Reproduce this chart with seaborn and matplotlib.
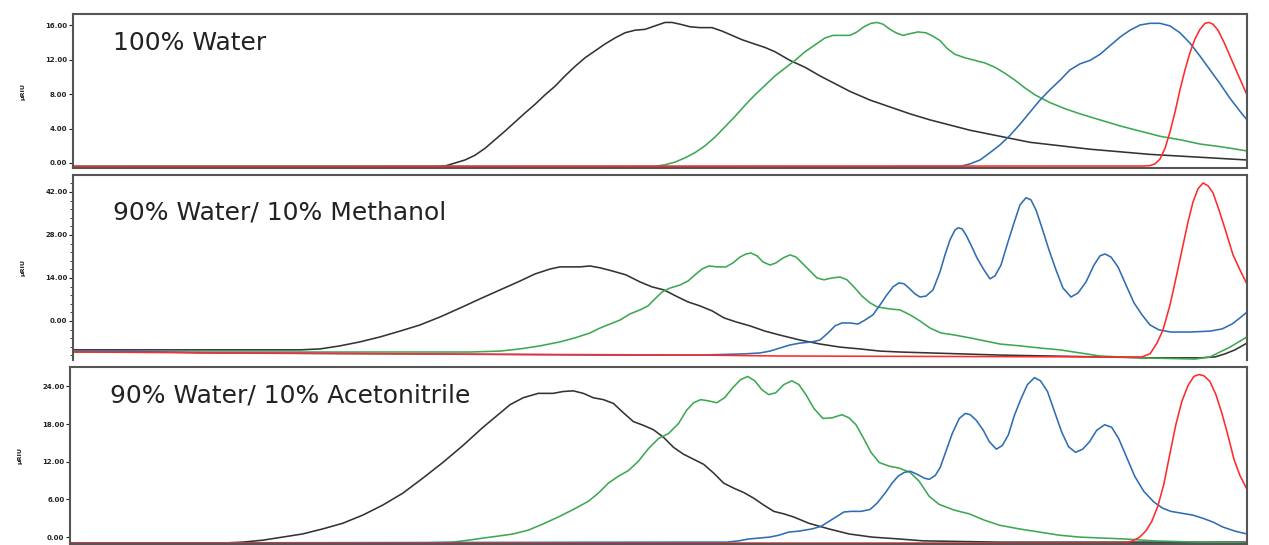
import matplotlib
matplotlib.use("Agg")
import matplotlib.pyplot as plt
from matplotlib.ticker import FixedLocator, MultipleLocator, FormatStrFormatter
import seaborn as sns
import pandas as pd

# ---------------- data (time in arbitrary units, signal in µRIU) ----------------
# Panel 1: 100% Water
w_black_x = [73, 435, 445, 455, 465, 475, 485, 495, 505, 515, 525, 535, 545, 555, 565, 575, 585, 595, 605, 615, 625, 635, 645, 655, 665, 672, 680, 690, 700, 712, 722, 732, 742, 752, 765, 775, 790, 805, 820, 835, 850, 870, 890, 910, 930, 950, 970, 1000, 1030, 1060, 1090, 1120, 1150, 1180, 1210, 1247]
w_black_y = [-0.4, -0.4, -0.35, 0.0, 0.35, 0.9, 1.7, 2.7, 3.7, 4.75, 5.8, 6.8, 7.9, 8.9, 10.1, 11.2, 12.2, 13.0, 13.8, 14.5, 15.1, 15.4, 15.5, 15.9, 16.3, 16.3, 16.1, 15.8, 15.7, 15.7, 15.3, 14.8, 14.3, 13.9, 13.4, 12.9, 11.9, 11.1, 10.1, 9.2, 8.3, 7.3, 6.5, 5.7, 5.0, 4.4, 3.8, 3.1, 2.4, 2.0, 1.6, 1.3, 1.0, 0.8, 0.6, 0.35]
w_green_x = [73, 655, 665, 675, 685, 695, 705, 715, 725, 735, 745, 755, 765, 775, 785, 795, 805, 815, 825, 833, 842, 850, 857, 864, 871, 877, 883, 890, 896, 903, 910, 918, 926, 933, 940, 947, 955, 965, 975, 985, 995, 1005, 1015, 1025, 1035, 1050, 1065, 1080, 1100, 1120, 1140, 1160, 1180, 1200, 1220, 1247]
w_green_y = [-0.4, -0.4, -0.2, 0.1, 0.6, 1.2, 2.0, 3.0, 4.2, 5.4, 6.7, 7.9, 9.0, 10.1, 11.0, 11.9, 12.9, 13.7, 14.5, 14.8, 14.8, 14.8, 15.2, 15.8, 16.2, 16.3, 16.1, 15.5, 15.1, 14.8, 15.0, 15.2, 15.1, 14.7, 14.2, 13.3, 12.6, 12.2, 11.9, 11.6, 11.1, 10.4, 9.6, 8.7, 7.9, 7.0, 6.3, 5.7, 5.0, 4.3, 3.7, 3.1, 2.7, 2.2, 1.9, 1.4]
w_blue_x = [73, 950, 960, 970, 980, 990, 1000, 1010, 1020, 1030, 1040, 1050, 1060, 1070, 1080, 1090, 1100, 1110, 1120, 1130, 1140, 1150, 1160, 1170, 1180, 1190, 1200, 1210, 1220, 1230, 1240, 1247]
w_blue_y = [-0.4, -0.4, -0.4, -0.1, 0.35, 1.2, 2.1, 3.2, 4.5, 5.9, 7.3, 8.5, 9.6, 10.8, 11.5, 11.9, 12.6, 13.6, 14.6, 15.4, 16.0, 16.2, 16.2, 15.9, 15.1, 13.9, 12.4, 10.8, 9.2, 7.5, 6.0, 5.0]
w_red_x = [73, 1060, 1143, 1150, 1155, 1160, 1165, 1170, 1175, 1180, 1185, 1190, 1195, 1200, 1205, 1209, 1213, 1218, 1224, 1230, 1236, 1242, 1247]
w_red_y = [-0.4, -0.35, -0.35, -0.3, -0.1, 0.46, 1.7, 3.6, 5.9, 8.5, 10.8, 12.8, 14.4, 15.5, 16.2, 16.3, 16.1, 15.4, 14.0, 12.4, 10.8, 9.2, 7.9]

# Panel 2: 90% Water / 10% Methanol
m_black_x = [73, 300, 320, 340, 360, 380, 400, 420, 440, 460, 480, 500, 520, 535, 550, 560, 570, 580, 590, 600, 612, 626, 640, 652, 664, 676, 688, 700, 712, 724, 736, 750, 765, 780, 800, 820, 840, 860, 880, 900, 930, 960, 1000, 1050, 1100, 1150, 1200, 1215, 1225, 1235, 1247]
m_black_y = [-9.4, -9.4, -9.1, -8.1, -6.8, -5.2, -3.3, -1.3, 1.3, 4.2, 7.2, 10.1, 13.0, 15.3, 16.9, 17.6, 17.6, 17.6, 17.9, 17.3, 16.3, 15.0, 12.7, 11.1, 10.1, 8.1, 6.2, 4.9, 3.3, 1.0, -0.3, -1.6, -3.3, -4.6, -6.2, -7.5, -8.5, -9.1, -9.8, -10.1, -10.4, -10.7, -11.1, -11.4, -11.7, -12.0, -12.0, -11.7, -10.7, -9.4, -7.2]
m_green_x = [73, 470, 500, 520, 540, 560, 575, 590, 600, 610, 620, 630, 640, 648, 655, 662, 670, 680, 688, 695, 702, 709, 717, 726, 733, 740, 746, 751, 757, 763, 770, 776, 783, 790, 796, 802, 810, 817, 824, 832, 840, 847, 855, 862, 870, 877, 890, 900, 910, 920, 930, 941, 955, 970, 985, 1000, 1020, 1040, 1060, 1080, 1100, 1140, 1195, 1210, 1220, 1230, 1247]
m_green_y = [-10.1, -10.1, -9.8, -9.1, -8.1, -6.8, -5.5, -3.9, -2.3, -1.0, 0.3, 2.3, 3.6, 4.9, 7.2, 9.4, 10.7, 11.7, 13.0, 15.0, 16.9, 17.9, 17.6, 17.6, 18.9, 20.8, 21.8, 22.1, 21.2, 19.2, 18.2, 18.9, 20.5, 21.5, 20.8, 18.9, 16.3, 14.0, 13.4, 14.0, 14.3, 13.4, 10.7, 8.1, 5.9, 4.6, 3.9, 3.6, 2.0, 0.0, -2.3, -3.9, -4.6, -5.5, -6.5, -7.5, -8.1, -8.8, -9.4, -10.4, -11.4, -12.0, -12.4, -11.7, -10.1, -8.5, -5.2]
m_blue_x = [73, 125, 200, 400, 600, 700, 745, 760, 770, 780, 790, 800, 812, 820, 828, 835, 842, 850, 858, 865, 873, 880, 886, 893, 899, 904, 909, 915, 920, 926, 933, 940, 945, 950, 955, 958, 962, 966, 971, 977, 984, 990, 995, 1001, 1007, 1014, 1020, 1026, 1031, 1036, 1042, 1049, 1056, 1063, 1071, 1078, 1086, 1094, 1100, 1105, 1111, 1118, 1126, 1134, 1142, 1150, 1159, 1171, 1190, 1210, 1222, 1232, 1240, 1247]
m_blue_y = [-9.8, -9.8, -10.4, -10.7, -11.1, -11.1, -10.7, -10.4, -9.8, -8.8, -7.8, -7.2, -6.8, -6.2, -3.9, -1.6, -0.65, -0.65, -1.0, 0.3, 2.0, 5.2, 8.1, 11.1, 12.4, 12.1, 10.7, 8.8, 7.8, 8.1, 10.1, 16.0, 21.5, 26.4, 29.6, 30.3, 30.0, 28.0, 24.7, 20.5, 16.6, 13.7, 14.7, 18.2, 24.7, 31.9, 37.8, 40.1, 39.4, 36.1, 30.3, 23.1, 16.6, 10.7, 7.8, 9.1, 12.7, 18.2, 21.2, 21.8, 20.8, 17.6, 11.7, 5.9, 2.0, -1.3, -2.9, -3.6, -3.6, -3.3, -2.6, -1.0, 1.0, 2.9]
m_red_x = [73, 400, 700, 780, 1100, 1142, 1150, 1157, 1163, 1170, 1176, 1182, 1188, 1193, 1198, 1203, 1208, 1213, 1219, 1226, 1233, 1240, 1247]
m_red_y = [-10.1, -10.7, -11.1, -11.4, -11.7, -11.7, -10.7, -7.2, -2.9, 5.2, 14.0, 23.1, 32.2, 38.7, 43.0, 44.9, 44.0, 41.7, 36.1, 29.0, 21.5, 16.6, 12.0]

# Panel 3: 90% Water / 10% Acetonitrile
a_black_x = [73, 225, 245, 265, 285, 305, 325, 345, 365, 385, 405, 425, 445, 465, 485, 500, 512, 525, 540, 555, 565, 575, 585, 595, 605, 615, 625, 635, 645, 655, 665, 675, 685, 695, 705, 715, 725, 735, 745, 755, 765, 775, 785, 795, 810, 830, 850, 873, 900, 924, 1000, 1247]
a_black_y = [-0.95, -0.95, -0.8, -0.5, 0.0, 0.5, 1.3, 2.2, 3.5, 5.1, 7.0, 9.4, 11.9, 14.6, 17.5, 19.5, 21.1, 22.2, 22.9, 22.9, 23.2, 23.3, 22.9, 22.2, 21.9, 21.3, 19.8, 18.4, 17.8, 17.1, 15.9, 14.3, 13.2, 12.4, 11.6, 10.2, 8.6, 7.8, 7.1, 6.2, 5.1, 4.1, 3.7, 3.2, 2.2, 1.3, 0.5, 0.0, -0.3, -0.6, -0.8, -0.8]
a_green_x = [73, 420, 455, 470, 485, 500, 515, 530, 545, 560, 575, 590, 600, 610, 620, 630, 640, 650, 660, 670, 680, 688, 695, 702, 710, 718, 726, 734, 742, 749, 756, 763, 770, 777, 785, 793, 800, 807, 815, 824, 833, 843, 850, 857, 864, 872, 880, 890, 900, 911, 920, 930, 940, 955, 970, 985, 1000, 1020, 1040, 1060, 1080, 1125, 1154, 1197, 1247]
a_green_y = [-0.95, -0.95, -0.8, -0.5, -0.16, 0.16, 0.5, 1.1, 2.1, 3.2, 4.4, 5.7, 7.0, 8.6, 9.7, 10.6, 12.1, 14.1, 15.7, 16.5, 18.1, 20.2, 21.4, 21.9, 21.7, 21.4, 22.2, 23.8, 25.1, 25.6, 24.9, 23.5, 22.7, 23.0, 24.3, 24.9, 24.3, 22.7, 20.5, 18.9, 19.0, 19.5, 19.0, 17.9, 15.9, 13.5, 11.9, 11.3, 11.0, 10.3, 8.9, 6.5, 5.2, 4.3, 3.7, 2.7, 1.9, 1.3, 0.8, 0.3, 0.0, -0.3, -0.6, -0.8, -0.95]
a_blue_x = [73, 680, 728, 740, 750, 760, 771, 780, 790, 800, 813, 822, 830, 838, 845, 852, 862, 871, 878, 886, 893, 899, 905, 911, 918, 925, 930, 936, 941, 947, 953, 960, 966, 971, 977, 984, 990, 997, 1003, 1009, 1015, 1022, 1028, 1035, 1041, 1048, 1055, 1062, 1069, 1076, 1083, 1090, 1097, 1105, 1112, 1119, 1127, 1135, 1144, 1154, 1163, 1171, 1182, 1193, 1203, 1213, 1223, 1235, 1247]
a_blue_y = [-0.95, -0.8, -0.8, -0.6, -0.3, -0.16, 0.0, 0.3, 0.8, 0.95, 1.3, 1.7, 2.5, 3.3, 4.0, 4.1, 4.1, 4.4, 5.4, 7.0, 8.6, 9.7, 10.3, 10.5, 10.0, 9.4, 9.2, 9.8, 11.1, 13.8, 16.5, 18.9, 19.7, 19.5, 18.6, 17.0, 15.2, 14.0, 14.6, 16.3, 19.4, 22.2, 24.3, 25.4, 24.9, 23.2, 20.0, 16.8, 14.4, 13.5, 14.0, 15.2, 17.0, 17.9, 17.5, 15.7, 12.7, 9.7, 7.3, 5.6, 4.6, 4.1, 3.8, 3.5, 3.0, 2.4, 1.6, 0.95, 0.5]
a_red_x = [73, 1125, 1133, 1140, 1146, 1152, 1158, 1164, 1170, 1176, 1182, 1188, 1194, 1199, 1204, 1210, 1216, 1222, 1228, 1234, 1240, 1247]
a_red_y = [-0.95, -0.95, -0.6, 0.0, 0.95, 2.5, 4.9, 8.4, 13.2, 17.9, 21.6, 24.1, 25.6, 25.9, 25.7, 24.8, 22.7, 19.7, 16.2, 12.4, 9.8, 7.6]

titles = ["100% Water", "90% Water/ 10% Methanol", "90% Water/ 10% Acetonitrile"]
p1_ticks = [0, 4, 8, 12, 16]
p2_ticks = [0, 14, 28, 42]
p3_ticks = [0, 6, 12, 18, 24]
series_names = ["black", "green", "blue", "red"]

# ---------------- styling ----------------
sns.set_theme(style="white")
plt.rcParams['font.family'] = ['DejaVu Sans']

palette = {"black": "#333333", "green": "#3da852", "blue": "#2f6db3", "red": "#ff2a2a"}

fig = plt.figure(figsize=(12.69, 5.45), dpi=100)
left, width = 73 / 1269, (1247 - 73) / 1269
rects = [
    (left, 1 - 168 / 545, width, (168 - 14) / 545),
    (left, 1 - 360 / 545, width, (360 - 175) / 545),
    (70 / 1269, 1 - 544 / 545, (1247 - 70) / 1269, (544 - 367) / 545),
]
ylims = [(-0.58, 17.28), (-12.7, 47.5), (-1.1, 27.1)]
tick_sets = [p1_ticks, p2_ticks, p3_ticks]
text_y = [0.81, 0.795, 0.84]

panels = [
    [(w_black_x, w_black_y), (w_green_x, w_green_y), (w_blue_x, w_blue_y), (w_red_x, w_red_y)],
    [(m_black_x, m_black_y), (m_green_x, m_green_y), (m_blue_x, m_blue_y), (m_red_x, m_red_y)],
    [(a_black_x, a_black_y), (a_green_x, a_green_y), (a_blue_x, a_blue_y), (a_red_x, a_red_y)],
]

for i, (rect, data) in enumerate(zip(rects, panels)):
    ax = fig.add_axes(rect)
    frames = []
    for name, (xs, ys) in zip(series_names, data):
        frames.append(pd.DataFrame({"time": xs, "signal": ys, "series": name}))
    df = pd.concat(frames, ignore_index=True)
    sns.lineplot(data=df, x="time", y="signal", hue="series", palette=palette,
                 hue_order=series_names, estimator=None, sort=False,
                 linewidth=1.15, legend=False, ax=ax)
    ax.set_xlim(73, 1247)
    ax.set_ylim(*ylims[i])
    ax.set_xticks([])
    ax.set_xlabel("")
    ax.yaxis.set_major_locator(FixedLocator(tick_sets[i]))
    ax.yaxis.set_major_formatter(FormatStrFormatter("%.2f"))
    if i == 1:
        ax.yaxis.set_minor_locator(MultipleLocator(2.8))
    ax.tick_params(axis="y", which="major", left=True, length=3, width=0.8,
                   labelsize=5, pad=1, colors="#222222")
    ax.tick_params(axis="y", which="minor", left=True, length=2, width=0.6, colors="#222222")
    for lab in ax.get_yticklabels():
        lab.set_fontweight("bold")
    ax.set_ylabel("µRIU", fontsize=4.5, fontweight="bold", labelpad=14, color="#222222")
    for sp in ax.spines.values():
        sp.set_visible(True)
        sp.set_color("#555555")
        sp.set_linewidth(1.5)
    if i == 1:
        ax.spines["bottom"].set_visible(False)
    ax.text(0.034, text_y[i], titles[i], transform=ax.transAxes, fontsize=18,
            color="#222222", va="center", ha="left")

fig.savefig("out.png", dpi=100)
